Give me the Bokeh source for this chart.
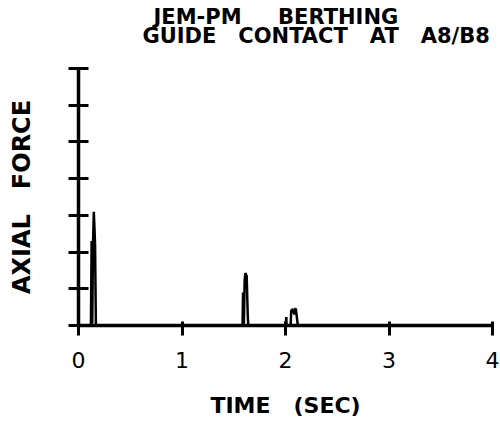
from bokeh.plotting import figure
from bokeh.models import Range1d, FixedTicker, CustomJSTickFormatter, Title, LinearAxis
from bokeh.embed import file_html
from bokeh.resources import INLINE

# Axial force trace (arbitrary units)
time_sec = [0.0, 0.120, 0.127, 0.133, 0.140, 0.148, 0.155, 0.160, 0.168,
            1.585, 1.590, 1.598, 1.605, 1.612, 1.625, 1.635, 1.640,
            2.000, 2.008, 2.012, 2.018, 2.050, 2.055, 2.070, 2.085, 2.090,
            2.100, 2.115, 2.120, 4.000]
axial_force = [0.0, 0.0, 2.3, 0.05, 2.2, 3.1, 2.6, 2.2, 0.0,
               0.0, 0.9, 0.05, 1.2, 1.43, 1.35, 0.3, 0.0,
               0.0, 0.23, -0.2, 0.0, 0.0, 0.4, 0.45, 0.3, 0.45,
               0.45, 0.1, 0.0, 0.0]

x_ticks = [0, 1, 2, 3, 4]
y_ticks = [0, 1, 2, 3, 4, 5, 6, 7]
NB = "\u00a0"
title_lines = ["JEM-PM" + NB * 5 + "BERTHING",
               "GUIDE" + NB * 3 + "CONTACT" + NB * 3 + "AT" + NB * 3 + "A8/B8"]
x_label = "TIME" + NB * 3 + "(SEC)"
y_label = "AXIAL" + NB * 3 + "FORCE"

FONT = "DejaVu Sans"

p = figure(width=500, height=429, output_backend="svg", toolbar_location=None,
           x_range=Range1d(0, 4), y_range=Range1d(0, 7),
           x_axis_location=None, y_axis_location=None,
           min_border_left=78, min_border_right=8,
           min_border_top=67, min_border_bottom=104)
p.outline_line_color = None
p.xgrid.visible = False
p.ygrid.visible = False
p.background_fill_color = "white"
p.border_fill_color = "white"

xaxis = LinearAxis(ticker=FixedTicker(ticks=x_ticks), axis_label=x_label)
xaxis.axis_line_width = 3.5
xaxis.major_tick_line_width = 3
xaxis.major_tick_in = 4
xaxis.major_tick_out = 10
xaxis.minor_tick_line_color = None
xaxis.major_label_text_font = FONT
xaxis.major_label_text_font_size = "22px"
xaxis.major_label_text_color = "black"
xaxis.major_label_standoff = 16
xaxis.axis_label_text_font = FONT
xaxis.axis_label_text_font_style = "bold"
xaxis.axis_label_text_font_size = "22px"
xaxis.axis_label_text_color = "black"
xaxis.axis_label_standoff = 22
p.add_layout(xaxis, "below")

yaxis = LinearAxis(ticker=FixedTicker(ticks=y_ticks), axis_label=y_label,
                   formatter=CustomJSTickFormatter(code="return ''"))
yaxis.axis_line_width = 3.5
yaxis.major_tick_line_width = 3
yaxis.major_tick_in = 10
yaxis.major_tick_out = 10
yaxis.minor_tick_line_color = None
yaxis.major_label_standoff = 0
yaxis.axis_label_text_font = FONT
yaxis.axis_label_text_font_style = "bold"
yaxis.axis_label_text_font_size = "24px"
yaxis.axis_label_text_color = "black"
yaxis.axis_label_standoff = 33
p.add_layout(yaxis, "left")

p.line(time_sec, axial_force, line_color="black", line_width=2.5)

# first added sits nearest the plot frame
for txt, off, so in [(title_lines[1], 64, 42), (title_lines[0], 75, -57)]:
    t = Title(text=txt, align="left", offset=off, text_font=FONT,
              text_font_style="bold", text_font_size="21px", text_color="black",
              standoff=so, text_line_height=0.85)
    p.add_layout(t, "above")

open("out.html", "w").write(file_html(p, INLINE))
